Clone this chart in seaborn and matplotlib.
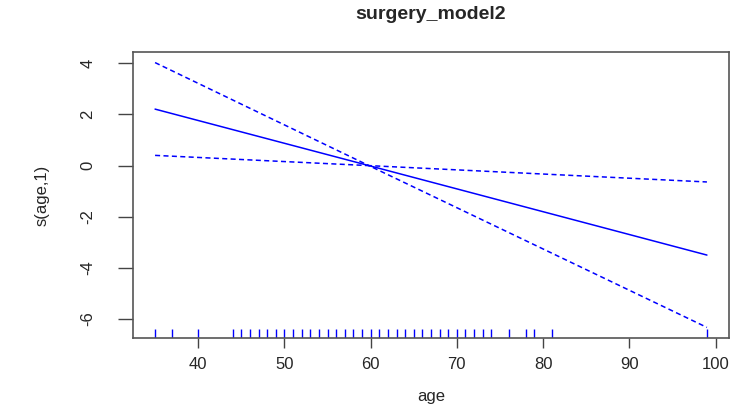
import numpy as np
import pandas as pd
from matplotlib import pyplot as plt
import seaborn as sns

# smooth term (fit and +/- 2 se bands)
age_grid = [35, 59.8, 99]
fit = [2.21, 0.0, -3.50]
upper = [4.03, 0.0, -0.64]
lower = [0.40, 0.0, -6.33]

# observed ages for the rug
rug_ages = [35, 37, 40] + list(range(44, 75)) + [76, 78, 79, 81, 99]

x_ticks = [40, 50, 60, 70, 80, 90, 100]
y_ticks = [-6, -4, -2, 0, 2, 4]

sns.set_style('ticks')
plt.rcParams['font.family'] = ['Liberation Sans', 'DejaVu Sans']

fig = plt.figure(figsize=(7.39, 4.12), dpi=100)
ax = fig.add_axes([133 / 739, 1 - 338 / 412, (729 - 133) / 739, (338 - 52) / 412])

df = pd.DataFrame({'age': age_grid, 'fit': fit, 'upper': upper, 'lower': lower})
sns.lineplot(data=df, x='age', y='fit', color='blue', lw=1.1, ax=ax)
sns.lineplot(data=df, x='age', y='upper', color='blue', lw=1.1, ax=ax,
             linestyle=(0, (3.3, 2.2)))
sns.lineplot(data=df, x='age', y='lower', color='blue', lw=1.1, ax=ax,
             linestyle=(0, (3.3, 2.2)))
sns.rugplot(x=rug_ages, height=0.03, color='blue', lw=1.1, ax=ax)

lo, hi = min(rug_ages), max(rug_ages)
ax.set_xlim(lo - 0.04 * (hi - lo), hi + 0.04 * (hi - lo))
ylo, yhi = min(lower), max(upper)
ax.set_ylim(ylo - 0.04 * (yhi - ylo), yhi + 0.04 * (yhi - ylo))

ax.set_xticks(x_ticks)
ax.set_yticks(y_ticks)
ax.set_xticklabels([str(t) for t in x_ticks], fontsize=12)
ax.set_yticklabels([str(t) for t in y_ticks], fontsize=12, rotation=90, va='center')
ax.tick_params(axis='x', length=7, width=1, color='#444444', pad=7)
ax.tick_params(axis='y', length=11, width=1, color='#444444', pad=16)
for s in ax.spines.values():
    s.set_color('#555555')
    s.set_linewidth(1.2)

ax.set_xlabel('age', fontsize=12, labelpad=12)
ax.set_ylabel('s(age,1)', fontsize=12, labelpad=22)
fig.text(431 / 739, 1 - 19 / 412, 'surgery_model2', ha='center', va='baseline',
         fontsize=14, fontweight='bold')

fig.savefig('out.png', dpi=100)
plt.close('all')
